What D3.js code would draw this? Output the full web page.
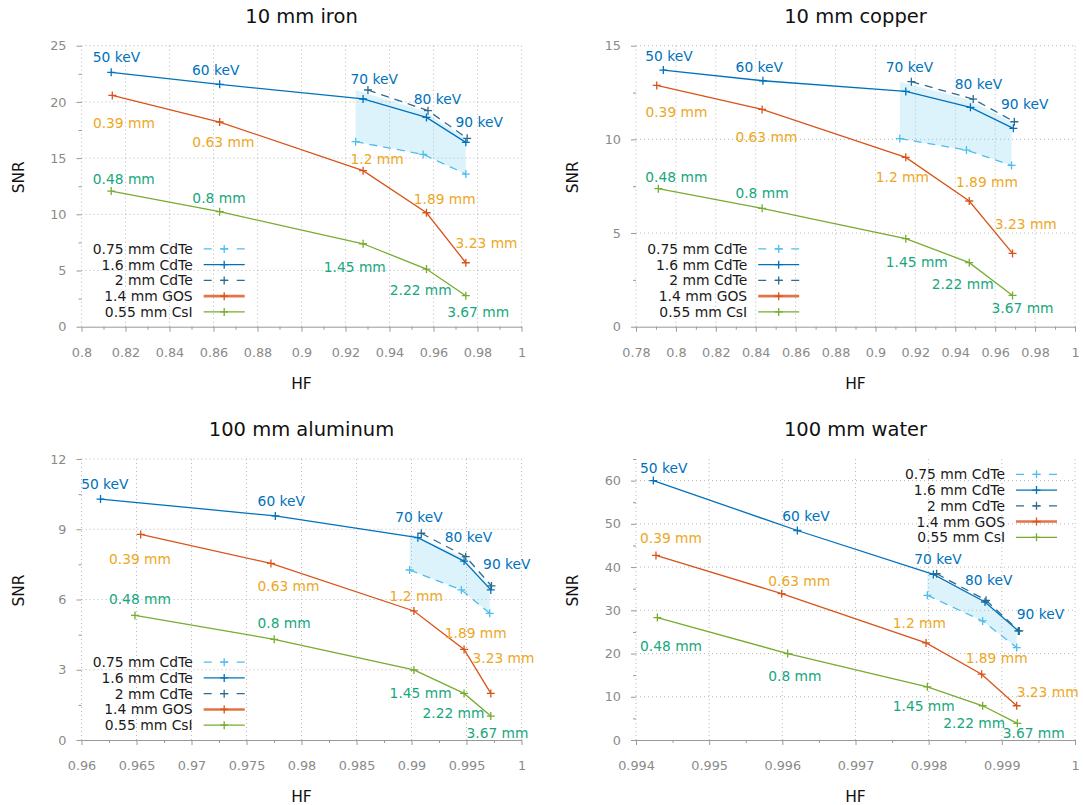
<!DOCTYPE html>
<html><head><meta charset="utf-8">
<script src="https://cdn.jsdelivr.net/npm/d3@7"></script>
<style>body{margin:0;background:#fff} svg{display:block}</style>
</head><body>
<svg id="c" width="1083" height="805"></svg>
<script>
// ---------------- data ----------------
const seriesNames = ["0.75 mm CdTe", "1.6 mm CdTe", "2 mm CdTe", "1.4 mm GOS", "0.55 mm CsI"];
const panelTitles = ["10 mm iron", "10 mm copper", "100 mm aluminum", "100 mm water"];
const keVLabels = ["50 keV", "60 keV", "70 keV", "80 keV", "90 keV"];
const gosLabels = ["0.39 mm", "0.63 mm", "1.2 mm", "1.89 mm", "3.23 mm"];
const csiLabels = ["0.48 mm", "0.8 mm", "1.45 mm", "2.22 mm", "3.67 mm"];

// [HF, SNR]
const ironCdTe075 = [[0.9246,16.46],[0.9553,15.33],[0.9747,13.58]];
const ironCdTe16  = [[0.8135,22.63],[0.8628,21.56],[0.9280,20.26],[0.9568,18.62],[0.9747,16.40]];
const ironCdTe2   = [[0.9302,21.06],[0.9575,19.22],[0.9753,16.76]];
const ironGOS     = [[0.8140,20.58],[0.8628,18.21],[0.9280,13.88],[0.9568,10.14],[0.9747,5.69]];
const ironCsI     = [[0.8135,12.07],[0.8628,10.23],[0.9280,7.38],[0.9568,5.13],[0.9747,2.76]];

const copperCdTe075 = [[0.9122,10.04],[0.9456,9.43],[0.9682,8.61]];
const copperCdTe16  = [[0.7937,13.70],[0.8436,13.13],[0.9152,12.56],[0.9476,11.71],[0.9691,10.59]];
const copperCdTe2   = [[0.9180,13.08],[0.9490,12.15],[0.9696,10.94]];
const copperGOS     = [[0.7904,12.88],[0.8432,11.60],[0.9152,9.04],[0.9470,6.71],[0.9687,3.91]];
const copperCsI     = [[0.7912,7.37],[0.8432,6.32],[0.9152,4.70],[0.9470,3.42],[0.9687,1.67]];

const aluminumCdTe075 = [[0.98983,7.26],[0.99453,6.41],[0.99711,5.41]];
const aluminumCdTe16  = [[0.96173,10.29],[0.97762,9.57],[0.99058,8.64],[0.99478,7.64],[0.99721,6.41]];
const aluminumCdTe2   = [[0.99089,8.83],[0.99493,7.83],[0.99727,6.58]];
const aluminumGOS     = [[0.96538,8.78],[0.97722,7.54],[0.99022,5.51],[0.99478,3.87],[0.99721,1.99]];
const aluminumCsI     = [[0.96486,5.32],[0.97752,4.30],[0.99022,2.99],[0.99478,1.99],[0.99721,1.02]];

const waterCdTe075 = [[0.997982,33.46],[0.998738,27.54],[0.999203,21.38]];
const waterCdTe16  = [[0.994237,60.0],[0.996205,48.46],[0.998064,38.31],[0.998770,31.92],[0.999226,25.23]];
const waterCdTe2   = [[0.998109,38.46],[0.998784,32.31],[0.999239,25.23]];
const waterGOS     = [[0.994273,42.69],[0.995991,33.85],[0.997964,22.46],[0.998724,15.23],[0.999203,7.92]];
const waterCsI     = [[0.994292,28.31],[0.996073,20.00],[0.997982,12.31],[0.998738,7.92],[0.999212,3.85]];

// tick labels
const ironXTicks = [0.8,0.82,0.84,0.86,0.88,0.9,0.92,0.94,0.96,0.98,1];
const ironYTicks = [0,5,10,15,20,25];
const copperXTicks = [0.78,0.8,0.82,0.84,0.86,0.88,0.9,0.92,0.94,0.96,0.98,1];
const copperYTicks = [0,5,10,15];
const aluminumXTicks = [0.96,0.965,0.97,0.975,0.98,0.985,0.99,0.995,1];
const aluminumYTicks = [0,3,6,9,12];
const waterXTicks = [0.994,0.995,0.996,0.997,0.998,0.999,1];
const waterYTicks = [0,10,20,30,40,50,60];

// ---------------- layout / style ----------------
const panels = [
  {title: panelTitles[0], xd:[0.8,1], yd:[0,25], xt: ironXTicks, yt: ironYTicks,
   s:[ironCdTe075, ironCdTe16, ironCdTe2, ironGOS, ironCsI], r:{x0:81.5,x1:521.5,y0:45.7,y1:326.7}, leg:"bl"},
  {title: panelTitles[1], xd:[0.78,1], yd:[0,15], xt: copperXTicks, yt: copperYTicks,
   s:[copperCdTe075, copperCdTe16, copperCdTe2, copperGOS, copperCsI], r:{x0:636,x1:1075,y0:45.7,y1:326.7}, leg:"bl"},
  {title: panelTitles[2], xd:[0.96,1], yd:[0,12], xt: aluminumXTicks, yt: aluminumYTicks,
   s:[aluminumCdTe075, aluminumCdTe16, aluminumCdTe2, aluminumGOS, aluminumCsI], r:{x0:81.5,x1:521.5,y0:459,y1:740}, leg:"bl"},
  {title: panelTitles[3], xd:[0.994,1], yd:[0,65], xt: waterXTicks, yt: waterYTicks,
   s:[waterCdTe075, waterCdTe16, waterCdTe2, waterGOS, waterCsI], r:{x0:636,x1:1075,y0:459,y1:740}, leg:"tr"}
];

// label offsets (px) relative to their point: keV (on 1.6 mm CdTe), GOS, CsI
const labelOffsets = [
  { kev:[[-18.4,-15],[-27.7,-14],[-12.6,-19.7],[-12.7,-18],[-10.3,-20]],
    gos:[[-19.4,28],[-27.3,20.3],[-12.6,-11.4],[-12.7,-13.4],[-10.3,-19.4]],
    csi:[[-18.4,-11.7],[-27.3,-13.4],[-39.3,23],[-36.7,21],[-18.7,16]] },
  { kev:[[-18,-14],[-27.3,-13.4],[-20,-24],[-15.7,-23],[-12.3,-24.3]],
    gos:[[-11.3,27],[-26.7,27.4],[-30,19.4],[-13.3,-19.3],[-17.7,-29]],
    csi:[[-13,-11.4],[-26.7,-15],[-20,23.6],[-37.6,21.6],[-21,13]] },
  { kev:[[-19.4,-15],[-17.7,-15],[-22.6,-20.4],[-19.3,-24.3],[-7.7,-25.7]],
    gos:[[-31.7,25],[-13.4,22.4],[-24.3,-15.3],[-19.3,-16.6],[-18.3,-35]],
    csi:[[-26,-16],[-16.7,-16],[-24.3,23.3],[-41.6,19.4],[-24.3,17.3]] },
  { kev:[[-13.3,-12.7],[-15,-14.3],[-19,-15.7],[-20,-21.7],[-1.6,-16.7]],
    gos:[[-16,-17.7],[-13.4,-12.6],[-33.3,-19.4],[-16,-15.7],[0,-13.4]],
    csi:[[-17.3,28.4],[-19.4,22.4],[-34.6,19],[-39.4,17.6],[-14.6,10]] }
];

const seriesStyle = [
  {color:"#4DBEEE", dash:"8,6"},
  {color:"#0072BD", dash:null},
  {color:"#2E6B8E", dash:"8,6"},
  {color:"#D95319", dash:null},
  {color:"#77AC30", dash:null}
];
const keVColor = "#0072BD", gosColor = "#EDA81F", csiColor = "#17A77E";
const FONT = "DejaVu Sans, Verdana, sans-serif";

const svg = d3.select("#c");
const fmt = d3.format("~g");

function minorOf(ticks, dmax) {
  const out = [];
  for (let i = 0; i < ticks.length - 1; i++) out.push((ticks[i] + ticks[i+1]) / 2);
  const st = ticks[1] - ticks[0];
  const extra = ticks[ticks.length-1] + st/2;
  if (extra <= dmax + 1e-9) out.push(extra);
  return out;
}

panels.forEach((p, pi) => {
  const r = p.r;
  const x = d3.scaleLinear().domain(p.xd).range([r.x0, r.x1]);
  const y = d3.scaleLinear().domain(p.yd).range([r.y1, r.y0]);
  const g = svg.append("g");

  // fill between 0.75 mm and 2 mm CdTe
  const lo = p.s[0], hi = p.s[2];
  const band = lo.map((d, i) => ({hf: d[0], lo: d[1], hi: hi[i][1]}));
  g.append("path").datum(band)
    .attr("d", d3.area().x(d => x(d.hf)).y0(d => y(d.lo)).y1(d => y(d.hi)))
    .attr("fill", "#4DBEEE").attr("fill-opacity", 0.19);

  // grid
  const grid = g.append("g").attr("stroke", "#b8b8b8").attr("stroke-width", 1).attr("stroke-dasharray", "1,3");
  p.xt.forEach(t => grid.append("line").attr("x1", x(t)).attr("x2", x(t)).attr("y1", r.y1).attr("y2", r.y0));
  p.yt.filter(t => t > 0).forEach(t => grid.append("line").attr("x1", r.x0).attr("x2", r.x1).attr("y1", y(t)).attr("y2", y(t)));

  // axes
  const xAx = g.append("g").attr("transform", `translate(0,${r.y1})`)
    .call(d3.axisBottom(x).tickValues(p.xt).tickSize(5).tickSizeOuter(0).tickPadding(16).tickFormat(fmt));
  const xMin = g.append("g").attr("transform", `translate(0,${r.y1})`)
    .call(d3.axisBottom(x).tickValues(minorOf(p.xt, p.xd[1])).tickSize(3).tickSizeOuter(0).tickFormat(""));
  xMin.select(".domain").remove();
  const yAx = g.append("g").attr("transform", `translate(${r.x0},0)`)
    .call(d3.axisLeft(y).tickValues(p.yt).tickSize(5).tickSizeOuter(0).tickPadding(10).tickFormat(fmt));
  yAx.select(".domain").remove();
  const yMin = g.append("g").attr("transform", `translate(${r.x0},0)`)
    .call(d3.axisLeft(y).tickValues(minorOf(p.yt, p.yd[1])).tickSize(3).tickSizeOuter(0).tickFormat(""));
  yMin.select(".domain").remove();
  [xAx, xMin, yAx, yMin].forEach(a => {
    a.selectAll(".domain").attr("stroke", "#999");
    a.selectAll(".tick line").attr("stroke", "#999");
    a.selectAll(".tick text").attr("fill", "#8a8a8a").style("font-family", FONT).style("font-size", "12.8px");
  });

  // series
  const line = d3.line().x(d => x(d[0])).y(d => y(d[1]));
  p.s.forEach((data, si) => {
    const st = seriesStyle[si];
    g.append("path").datum(data).attr("d", line)
      .attr("fill", "none").attr("stroke", st.color).attr("stroke-width", 1.3)
      .attr("stroke-dasharray", st.dash);
    g.append("g").selectAll("path").data(data).join("path")
      .attr("transform", d => `translate(${x(d[0])},${y(d[1])})`)
      .attr("d", "M-4,0H4M0,-4V4").attr("stroke", st.color).attr("stroke-width", 1.3);
  });

  // annotations
  const off = labelOffsets[pi];
  const annot = (texts, pts, offs, color) => {
    g.append("g").selectAll("text").data(texts).join("text")
      .attr("x", (t, i) => x(pts[i][0]) + offs[i][0])
      .attr("y", (t, i) => y(pts[i][1]) + offs[i][1] + 4.9)
      .attr("fill", color).style("font-family", FONT).style("font-size", "13.8px")
      .text(t => t);
  };
  annot(keVLabels, p.s[1], off.kev, keVColor);
  annot(gosLabels, p.s[3], off.gos, gosColor);
  annot(csiLabels, p.s[4], off.csi, csiColor);

  // legend
  let tr, rowY0;
  if (p.leg === "bl") { tr = r.x0 + 111.2; rowY0 = r.y1 - 14.8 - 4 * 15.75; }
  else { tr = r.x1 - 70; rowY0 = r.y0 + 15.3; }
  const leg = g.append("g");
  seriesNames.forEach((name, si) => {
    const st = seriesStyle[si];
    const yy = rowY0 + si * 15.75;
    leg.append("text").attr("x", tr).attr("y", yy + 5).attr("text-anchor", "end")
      .attr("fill", "#1a1a1a").style("font-family", FONT).style("font-size", "13.9px").text(name);
    const sx0 = tr + 11, sx1 = tr + 52;
    leg.append("line").attr("x1", sx0).attr("x2", sx1).attr("y1", yy).attr("y2", yy)
      .attr("stroke", st.color).attr("stroke-width", si === 3 ? 2.6 : 1.3)
      .attr("stroke-opacity", si === 3 ? 0.8 : 1)
      .attr("stroke-dasharray", st.dash ? "8,8.5" : null);
    leg.append("path").attr("transform", `translate(${(sx0 + sx1) / 2},${yy})`)
      .attr("d", "M-4,0H4M0,-4V4").attr("stroke", st.color).attr("stroke-width", 1.3);
  });

  // titles and axis labels
  const cx = (r.x0 + r.x1) / 2, cy = (r.y0 + r.y1) / 2;
  g.append("text").attr("x", cx).attr("y", r.y0 - 23).attr("text-anchor", "middle")
    .attr("fill", "#111").style("font-family", FONT).style("font-size", "19.5px").text(p.title);
  g.append("text").attr("x", cx).attr("y", r.y1 + 62).attr("text-anchor", "middle")
    .attr("fill", "#111").style("font-family", FONT).style("font-size", "15.5px").text("HF");
  g.append("text").attr("transform", `translate(${r.x0 - 58},${cy - 9}) rotate(-90)`)
    .attr("text-anchor", "middle").attr("fill", "#111").style("font-family", FONT).style("font-size", "15.5px").text("SNR");
});
</script>
</body></html>
